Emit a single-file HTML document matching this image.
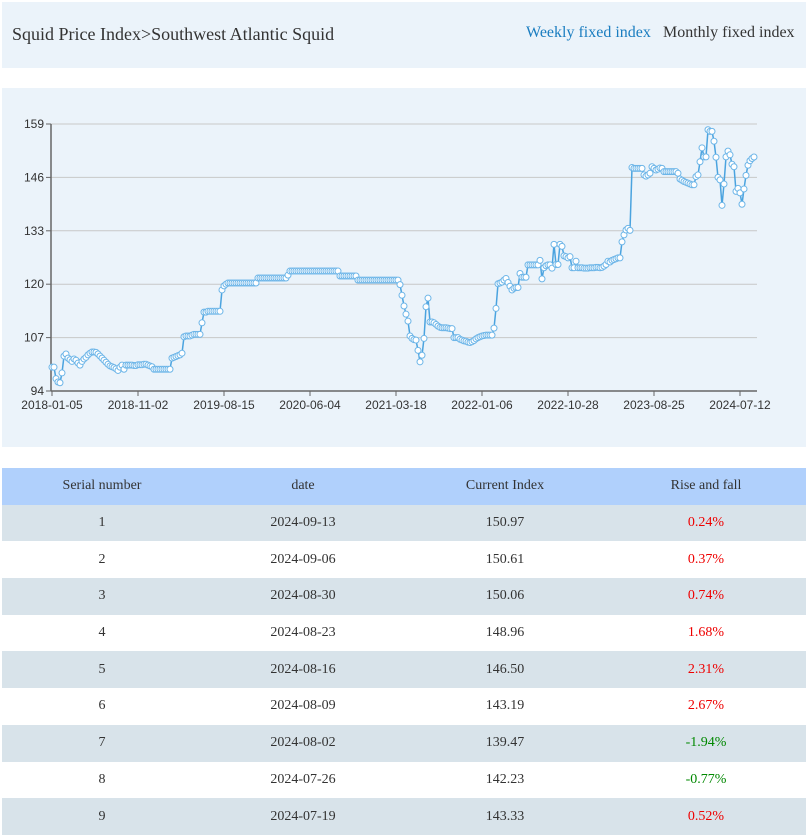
<!DOCTYPE html>
<html><head><meta charset="utf-8">
<style>
body{margin:0;width:806px;height:835px;background:#fff;font-family:"Liberation Serif",serif;overflow:hidden;position:relative}
.hdr{position:absolute;left:2px;top:2px;width:804px;height:66px;background:#ebf3fa}
.title{position:absolute;left:10px;top:22px;font-size:18px;color:#333}
.tab1{position:absolute;left:524px;top:22px;font-size:16px;color:#1a7dc0;cursor:pointer}
.tab2{position:absolute;left:661px;top:22px;font-size:16px;color:#333;cursor:pointer}
.chartbox{position:absolute;left:2px;top:88px;width:804px;height:359px;background:#ebf3fa}
table{position:absolute;left:2px;top:468px;width:804px;border-collapse:collapse;font-size:14px;color:#333}
td,th{height:36.7px;text-align:center;padding:0;font-weight:normal}
th{background:#b0d0fc}
tr.o td{background:#d8e3ea}
.up{color:#e00}.dn{color:#080}
</style></head><body>
<div class="hdr">
<div class="title">Squid Price Index&gt;Southwest Atlantic Squid</div>
<div class="tab1">Weekly fixed index</div>
<div class="tab2">Monthly fixed index</div>
</div>
<div class="chartbox"></div>
<svg id="chart" width="806" height="835" style="position:absolute;left:0;top:0" font-family="Liberation Sans, sans-serif"></svg>
<table>
<tr><th style="width:200px">Serial number</th><th style="width:202px">date</th><th style="width:202px">Current Index</th><th>Rise and fall</th></tr>
<tr class="o"><td>1</td><td>2024-09-13</td><td>150.97</td><td class="up">0.24%</td></tr>
<tr><td>2</td><td>2024-09-06</td><td>150.61</td><td class="up">0.37%</td></tr>
<tr class="o"><td>3</td><td>2024-08-30</td><td>150.06</td><td class="up">0.74%</td></tr>
<tr><td>4</td><td>2024-08-23</td><td>148.96</td><td class="up">1.68%</td></tr>
<tr class="o"><td>5</td><td>2024-08-16</td><td>146.50</td><td class="up">2.31%</td></tr>
<tr><td>6</td><td>2024-08-09</td><td>143.19</td><td class="up">2.67%</td></tr>
<tr class="o"><td>7</td><td>2024-08-02</td><td>139.47</td><td class="dn">-1.94%</td></tr>
<tr><td>8</td><td>2024-07-26</td><td>142.23</td><td class="dn">-0.77%</td></tr>
<tr class="o"><td>9</td><td>2024-07-19</td><td>143.33</td><td class="up">0.52%</td></tr>
</table>
<script>
const values=[99.8,99.8,97,96.2,96,98.4,102.5,103,102,101.6,101.2,101.8,101.5,100.8,100.3,101.2,101.8,102.2,102.8,103.2,
103.5,103.5,103.4,103,102.5,102,101.5,101,100.5,100.1,99.9,99.7,99.4,99,99.8,100.3,99.3,100.3,
100.3,100.3,100.3,100.2,100.2,100.4,100.4,100.4,100.5,100.5,100.3,100.1,
99.9,99.3,99.3,99.3,99.3,99.3,99.3,99.3,99.3,99.3,
102,102.2,102.4,102.6,102.8,103.2,107.2,107.4,107.4,107.4,107.6,107.8,107.8,107.8,107.8,
110.6,113.2,113.2,113.4,113.4,113.4,113.4,113.4,113.4,113.4,118.6,119.6,120,
120.3,120.3,120.3,120.3,120.3,120.3,120.3,120.3,120.3,120.3,120.3,120.3,120.3,120.3,120.3,
121.5,121.5,121.5,121.5,121.5,121.5,121.5,121.5,121.5,121.5,121.5,121.5,121.5,121.5,121.5,
122.2,
123.2,123.2,123.2,123.2,123.2,123.2,123.2,123.2,123.2,123.2,123.2,123.2,123.2,123.2,123.2,123.2,123.2,123.2,123.2,123.2,123.2,123.2,123.2,123.2,123.2,
122,122,122,122,122,122,122,122,122,
121,121,121,121,121,121,121,121,121,121,121,121,121,121,121,121,121,121,121,121,121,
119.9,117.3,114.7,112.7,111,107.4,106.8,106.5,106.4,103.9,101.1,102.7,106.8,114.5,116.6,110.8,110.8,110.6,110.2,109.8,
109.5,109.4,109.4,109.4,109.3,109.2,109.2,107,107,107,106.6,106.4,106.2,106.1,105.9,105.8,106,106.3,106.7,107,
107.2,107.4,107.5,107.6,107.6,107.6,107.6,109.3,114.1,120.1,120.3,120.5,121,121.4,120.4,119.5,118.6,119,119.2,119.2,
122.6,121.7,121.7,121.7,124.7,124.7,124.7,124.7,124.7,124.7,125.8,121.3,124,124.5,124.7,124.7,123.9,129.7,124.8,124.8,
129.7,129.2,126.9,126.7,126.4,126.7,124,124,125.6,
124,124,124,123.9,123.9,123.9,124,124,124,124.1,124.1,124,124.1,
124.4,124.8,125.6,125.4,125.8,126,126.2,126.4,126.4,130.3,132,133.2,133.6,133.1,148.4,
148.2,148.2,148.2,148.2,148.2,146.6,146.3,146.6,147,148.6,148.2,147.8,148,148.3,148.2,
147.4,147.4,147.4,147.4,147.4,147.4,147.4,147,145.6,145.3,145,144.8,144.6,144.4,144.2,144.2,146.2,146.6,
149.8,153.2,151,151,157.6,157.2,157.2,154.8,150.9,146,145.4,139.2,144.4,151,152.4,151.5,149.2,148.6,142.6,
143.33,142.23,139.47,143.19,146.50,148.96,150.06,150.61,150.97];
const tickLabels=['2018-01-05','2018-11-02','2019-08-15','2020-06-04','2021-03-18','2022-01-06','2022-10-28','2023-08-25','2024-07-12'];
const tickEvery=43;
const yTicks=[94,107,120,133,146,159];

const NS='http://www.w3.org/2000/svg';
const svg=document.getElementById('chart');
const X0=52,X1=754,Y0=391,Y1=124,yMin=94,yMax=159;
function xs(i){return X0+i*(X1-X0)/(values.length-1);}
function ys(v){return Y0-(v-yMin)/(yMax-yMin)*(Y0-Y1);}
function mk(tag,attrs,parent){const e=document.createElementNS(NS,tag);for(const k in attrs)e.setAttribute(k,attrs[k]);(parent||svg).appendChild(e);return e;}

yTicks.forEach(t=>{
  const g=mk('line',{x1:51,x2:757,y1:ys(t),y2:ys(t),stroke:'#c8c8c8','stroke-width':1});
  
  
  mk('line',{x1:46,x2:51,y1:ys(t),y2:ys(t),stroke:'#666'});
  const tx=mk('text',{x:44,y:ys(t)+4,'text-anchor':'end','font-size':12,fill:'#333'});
  tx.textContent=t;
  
  
});
const ya=mk('line',{x1:51,x2:51,y1:Y1,y2:Y0,stroke:'#666','stroke-width':1.5});


const xa=mk('line',{x1:51,x2:757,y1:Y0,y2:Y0,stroke:'#666','stroke-width':1.5});


tickLabels.forEach((lab,k)=>{
  const x=xs(k*tickEvery);
  mk('line',{x1:x,x2:x,y1:Y0,y2:Y0+5,stroke:'#666'});
  const tx=mk('text',{x:x,y:409,'text-anchor':'middle','font-size':12,fill:'#333'});
  tx.textContent=lab;
  
  
});
const pts=values.map((v,i)=>xs(i).toFixed(1)+','+ys(v).toFixed(1)).join(' ');
const line=mk('polyline',{points:pts,fill:'none',stroke:'#4aa3df','stroke-width':1.5});


values.forEach((v,i)=>{
  const c=mk('circle',{cx:xs(i),cy:ys(v),r:3,fill:'#fff',stroke:'#6cb5e8','stroke-width':1});
  
  
});
</script>
</body></html>
